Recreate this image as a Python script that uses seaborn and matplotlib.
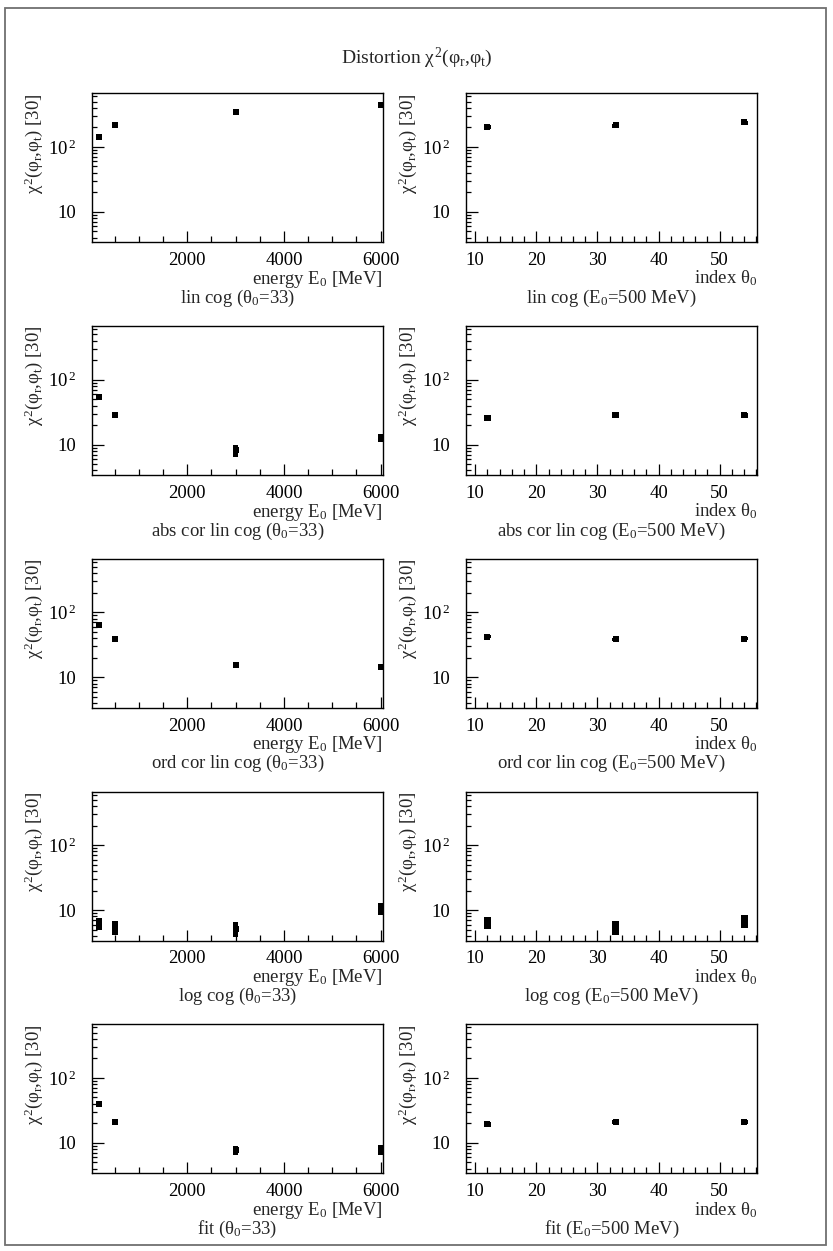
import matplotlib
matplotlib.use("Agg")
import matplotlib.pyplot as plt
import matplotlib.transforms as mtrans
from matplotlib.patches import Rectangle
from matplotlib.ticker import FixedLocator, MultipleLocator, LogLocator, NullFormatter
import pandas as pd
import seaborn as sns

# ---- data -------------------------------------------------------------
energy = [180, 500, 3000, 6000]          # E0 [MeV] at theta0 = 33
theta = [12, 33, 54]                     # theta0 index at E0 = 500 MeV

lin_cog_E = [143, 214, 344, 447]
lin_cog_E_err = [10, 15, 24, 32]
lin_cog_T = [206, 214, 238]
lin_cog_T_err = [14, 15, 17]

abs_cor_E = [54, 28.8, 8.2, 12.8]
abs_cor_E_err = [4.8, 2.7, 1.7, 1.8]
abs_cor_T = [25.8, 28.8, 28.4]
abs_cor_T_err = [2.7, 2.7, 2.7]

ord_cor_E = [65, 38.8, 15.5, 14.6]
ord_cor_E_err = [3.5, 2.3, 1.8, 1.5]
ord_cor_T = [42.3, 38.8, 39.4]
ord_cor_T_err = [2.5, 2.3, 2.3]

log_cog_E = [6.3, 5.5, 5.2, 10.6]
log_cog_E_err = [1.3, 1.3, 1.3, 2.1]
log_cog_T = [6.55, 5.5, 6.95]
log_cog_T_err = [1.35, 1.3, 1.55]

fit_E = [39.5, 21.3, 7.7, 7.9]
fit_E_err = [3.2, 1.6, 1.1, 1.3]
fit_T = [19.3, 21.3, 21.0]
fit_T_err = [1.6, 1.6, 1.6]

method_names = ["lin cog", "abs cor lin cog", "ord cor lin cog", "log cog", "fit"]
rows_E = [(lin_cog_E, lin_cog_E_err), (abs_cor_E, abs_cor_E_err),
          (ord_cor_E, ord_cor_E_err), (log_cog_E, log_cog_E_err), (fit_E, fit_E_err)]
rows_T = [(lin_cog_T, lin_cog_T_err), (abs_cor_T, abs_cor_T_err),
          (ord_cor_T, ord_cor_T_err), (log_cog_T, log_cog_T_err), (fit_T, fit_T_err)]

# ---- style ------------------------------------------------------------
sns.set_theme(style="ticks")
plt.rcParams["font.family"] = ["Liberation Serif", "DejaVu Serif"]
plt.rcParams["mathtext.fontset"] = "custom"
plt.rcParams["mathtext.rm"] = "Liberation Serif"
plt.rcParams["mathtext.it"] = "Liberation Serif"
plt.rcParams["mathtext.bf"] = "Liberation Serif:bold"
plt.rcParams["axes.edgecolor"] = "black"
plt.rcParams["axes.linewidth"] = 1.0

FS = 13.5
W, H = 833, 1251
fig = plt.figure(figsize=(W / 100, H / 100), dpi=100)
fig.patch.set_facecolor("white")

# outer canvas border
fig.add_artist(Rectangle((5 / W, 1 - 1245 / H), (826 - 5) / W, (1245 - 8) / H,
                         transform=fig.transFigure, fill=False,
                         edgecolor="#707070", linewidth=1.3))

fig.text(417 / W, 1 - 58 / H, r"Distortion $χ^{2}(φ_{r}{,}φ_{t})$",
         ha="center", va="center", fontsize=FS + 0.5)

YLIM = (3.4, 670)
YLABEL = r"$χ^{2}(φ_{r}{,}φ_{t})$ [30]"


def add_axes_px(left, top, w, h):
    return fig.add_axes([left / W, 1 - (top + h) / H, w / W, h / H])


def style_axes(ax, xlim, minor, xticks):
    ax.set_yscale("log")
    ax.set_ylim(*YLIM)
    ax.set_xlim(*xlim)
    ax.yaxis.set_major_locator(FixedLocator([10, 100]))
    ax.set_yticklabels(["10", r"$10^{\,2}$"])
    ax.yaxis.set_minor_locator(LogLocator(base=10, subs=range(2, 10)))
    ax.yaxis.set_minor_formatter(NullFormatter())
    ax.xaxis.set_major_locator(FixedLocator(xticks))
    ax.set_xticklabels([str(t) for t in xticks])
    ax.xaxis.set_minor_locator(MultipleLocator(minor))
    ax.tick_params(axis="both", which="both", direction="in", top=False, right=False,
                   colors="black", width=0.9, labelsize=FS)
    ax.tick_params(axis="y", which="major", length=8.5, pad=11.5)
    ax.tick_params(axis="y", which="minor", length=3.8)
    ax.tick_params(axis="x", which="major", length=8.0, pad=7)
    ax.tick_params(axis="x", which="minor", length=4.3)
    for s in ax.spines.values():
        s.set_visible(True)
        s.set_color("black")
        s.set_linewidth(1.0)
    ax.set_facecolor("white")
    ax.set_xlabel("")
    ax.set_ylabel(YLABEL, fontsize=FS, loc="top")
    ax.yaxis.set_label_coords(-47 / 291, 1.0)


def draw_points(ax, x, y, err, width):
    lo = [v - e for v, e in zip(y, err)]
    hi = [v + e for v, e in zip(y, err)]
    ax.bar(x, [h - l for h, l in zip(hi, lo)], bottom=lo, width=width,
           color="black", linewidth=0, zorder=3)
    df = pd.DataFrame({"x": x, "y": y})
    sns.scatterplot(data=df, x="x", y="y", ax=ax, marker="s", s=16,
                    color="black", linewidth=0, zorder=4, legend=False)


def below_text(ax, xfrac, dy_px, text, ha):
    tr = mtrans.offset_copy(ax.transAxes, fig=fig, x=0, y=-dy_px, units="dots")
    ax.text(xfrac, 0, text, transform=tr, ha=ha, va="baseline", fontsize=FS,
            clip_on=False)


LEFT_X, RIGHT_X, AW, AH = 92, 466, 291, 149
for i, name in enumerate(method_names):
    top = 93.3 + 232.75 * i

    axE = add_axes_px(LEFT_X, top, AW, AH)
    yE, eE = rows_E[i]
    draw_points(axE, energy, yE, eE, 120)
    style_axes(axE, (30, 6050), 500, [2000, 4000, 6000])
    below_text(axE, 1.0, 41.5, r"energy $\mathrm{E}_{0}$ [MeV]", "right")
    below_text(axE, 0.5, 60.5, name + r" ($θ_{0}$=33)", "center")

    axT = add_axes_px(RIGHT_X, top, AW, AH)
    yT, eT = rows_T[i]
    draw_points(axT, theta, yT, eT, 1.1)
    style_axes(axT, (8.5, 56.1), 2, [10, 20, 30, 40, 50])
    below_text(axT, 1.0, 41.5, r"index $θ_{0}$", "right")
    below_text(axT, 0.5, 60.5, name + r" ($\mathrm{E}_{0}$=500 MeV)", "center")

fig.savefig("out.png", dpi=100, facecolor="white")
